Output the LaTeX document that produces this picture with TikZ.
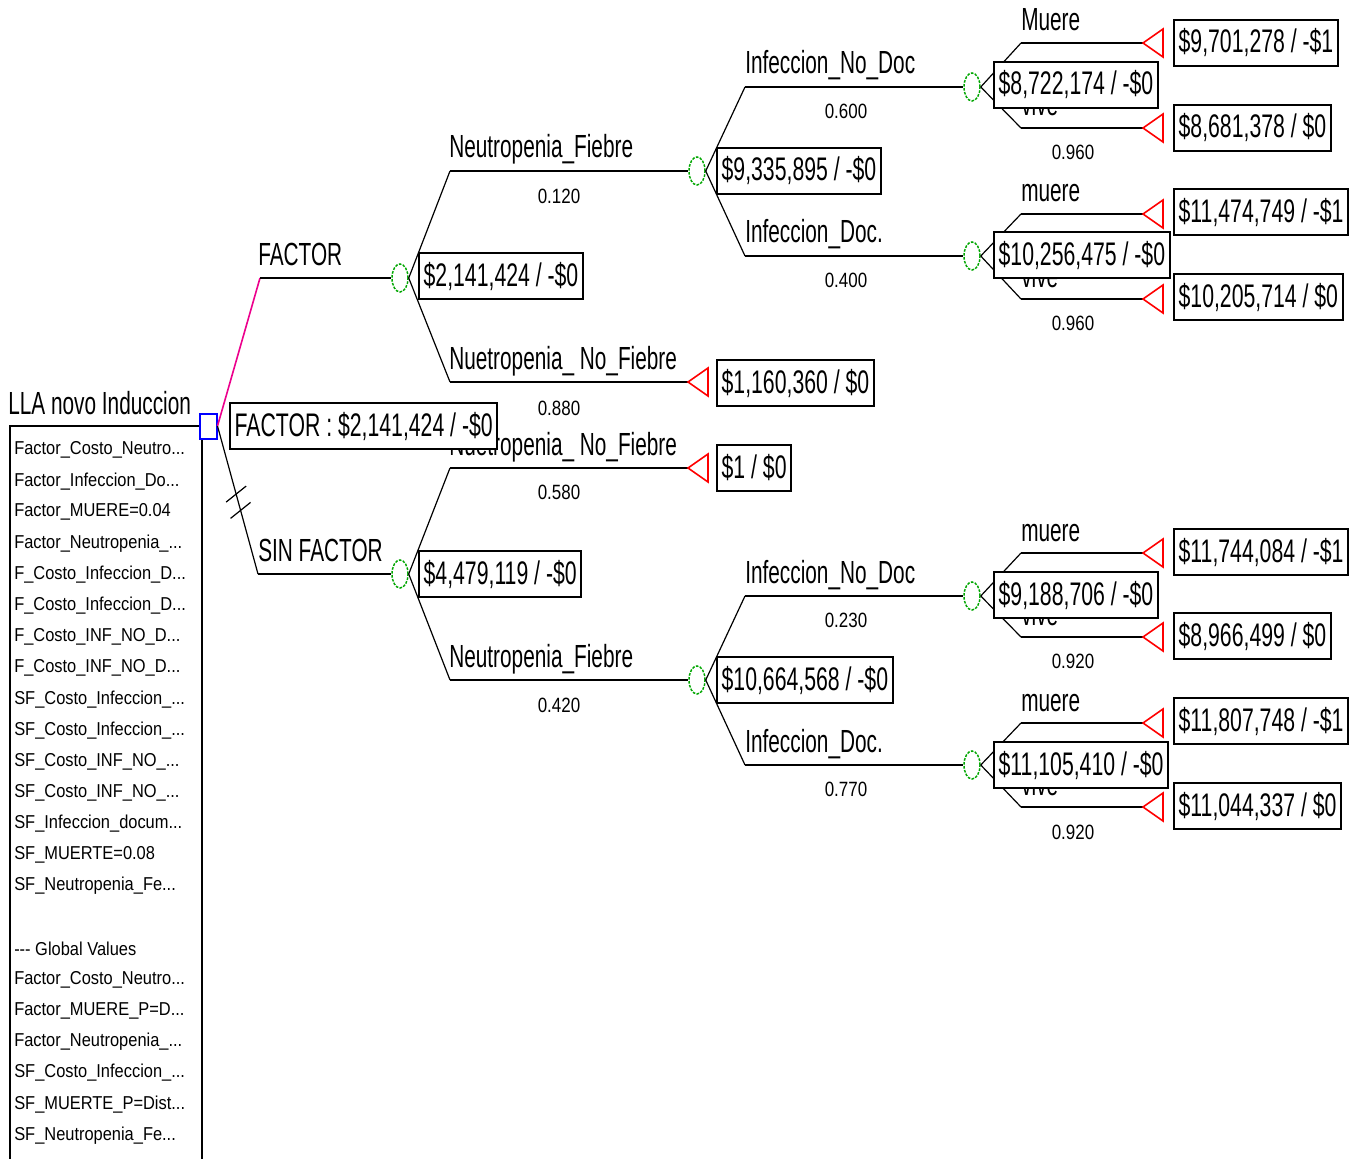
\documentclass[tikz,border=0pt]{standalone}
\usepackage{fontspec}
\setmainfont{Liberation Sans}[FakeStretch=0.65]
\newfontfamily\probfont{Liberation Sans}[FakeStretch=0.82]
\newfontfamily\listfont{Liberation Sans}[FakeStretch=0.88]
\usetikzlibrary{shapes.geometric}
\newcommand\cutdots{...}

\tikzset{
  treelabel/.style={anchor=base west,inner sep=0pt,font=\fontsize{24}{28}\selectfont},
  problabel/.style={inner sep=0pt,font=\probfont\fontsize{15.5}{18}\selectfont},
  listlabel/.style={anchor=west,inner sep=0pt,font=\listfont\fontsize{14}{16}\selectfont},
  valuebox/.style={draw,line width=1.5pt,fill=white,anchor=west,inner xsep=3.5pt,inner ysep=0pt,
    minimum height=34.5pt,font=\fontsize{24.5}{28}\selectfont},
  chancenode/.style={ellipse,draw=green!65!black,line width=1.1pt,dash pattern=on 2pt off 1pt,
    minimum width=12pt,minimum height=21pt,inner sep=0pt},
  decisionnode/.style={rectangle,draw=blue,line width=1.5pt,minimum width=12.75pt,
    minimum height=18.75pt,inner sep=0pt},
  branchline/.style={line width=1.5pt},
  fanline/.style={line width=0.9pt},
  termnode/.style={draw=red,line width=1.2pt,line join=miter},
}

\begin{document}
\begin{tikzpicture}[x=0.75pt,y=-0.75pt]
\useasboundingbox (0,0) rectangle (1357,1159);

% root and its list of values
\node[treelabel] (root) at (8,414) {LLA novo Induccion};
\node[decisionnode] (d0) at (208,426) {};
\draw[line width=1.2pt] (d0.west) -- (10,426) -- (10,1159);
\draw[line width=1.2pt] (202,440) -- (202,1159);
\foreach \v [count=\i from 0] in {Factor\_Costo\_Neutro\cutdots,Factor\_Infeccion\_Do\cutdots,
    Factor\_MUERE=0.04,Factor\_Neutropenia\_\cutdots,F\_Costo\_Infeccion\_D\cutdots,F\_Costo\_Infeccion\_D\cutdots,
    F\_Costo\_INF\_NO\_D\cutdots,F\_Costo\_INF\_NO\_D\cutdots,SF\_Costo\_Infeccion\_\cutdots,SF\_Costo\_Infeccion\_\cutdots,
    SF\_Costo\_INF\_NO\_\cutdots,SF\_Costo\_INF\_NO\_\cutdots,SF\_Infeccion\_docum\cutdots,SF\_MUERTE=0.08,
    SF\_Neutropenia\_Fe\cutdots}
  \node[listlabel] (var\i) at (14,{450+31.15*\i}) {\v};
\foreach \v [count=\i from 16] in {--- Global Values,Factor\_Costo\_Neutro\cutdots,Factor\_MUERE\_P=D\cutdots,
    Factor\_Neutropenia\_\cutdots,SF\_Costo\_Infeccion\_\cutdots,SF\_MUERTE\_P=Dist\cutdots,SF\_Neutropenia\_Fe\cutdots}
  \node[listlabel] (var\i) at (14,{450+31.15*\i}) {\v};

% first split
\coordinate (fF) at (260,278);
\coordinate (fS) at (258,574);
\node[chancenode] (cF) at (400,278) {};
\node[chancenode] (cS) at (400,574) {};
\draw[line width=1.2pt,magenta] (d0.east) -- (fF);
\draw[branchline] (fF) -- (cF.west);
\draw[fanline] (d0.east) -- coordinate[pos=0.46] (m1) coordinate[pos=0.57] (m2) (fS);
\draw[fanline] (m1) ++(-10,8) -- ++(20,-16);
\draw[fanline] (m2) ++(-10,8) -- ++(20,-16);
\draw[branchline] (fS) -- (cS.west);
\node[treelabel] (lF) at (258,265) {FACTOR};
\node[treelabel] (lS) at (258,561) {SIN FACTOR};

% FACTOR
\coordinate (fFN) at (450,171);
\coordinate (fFO) at (450,382);
\node[chancenode] (cFN) at (697,171) {};
\coordinate (tFO) at (688,382);
\draw[fanline] (cF.east) -- (fFN);
\draw[fanline] (cF.east) -- (fFO);
\draw[branchline] (fFN) -- (cFN.west);
\draw[branchline] (fFO) -- (tFO);
\node[treelabel] (lFN) at (449,158) {Neutropenia\_Fiebre};
\node[problabel] (pFN) at (559,196) {0.120};
\node[treelabel] (lFO) at (449,369) {Nuetropenia\_ No\_Fiebre};
\node[problabel] (pFO) at (559,408) {0.880};

\coordinate (fFI) at (745,87);
\coordinate (fFD) at (745,256);
\node[chancenode] (cFI) at (972,87) {};
\node[chancenode] (cFD) at (972,256) {};
\draw[fanline] (cFN.east) -- (fFI);
\draw[fanline] (cFN.east) -- (fFD);
\draw[branchline] (fFI) -- (cFI.west);
\draw[branchline] (fFD) -- (cFD.west);
\node[treelabel] (lFI) at (745,74) {Infeccion\_No\_Doc};
\node[problabel] (pFI) at (846,111) {0.600};
\node[treelabel] (lFD) at (745,243) {Infeccion\_Doc.};
\node[problabel] (pFD) at (846,280) {0.400};

\coordinate (fFIm) at (1021,43);
\coordinate (fFIv) at (1021,128);
\coordinate (tFIm) at (1143,43);
\coordinate (tFIv) at (1143,128);
\draw[fanline] (cFI.east) -- (fFIm);
\draw[fanline] (cFI.east) -- (fFIv);
\draw[branchline] (fFIm) -- (tFIm);
\draw[branchline] (fFIv) -- (tFIv);
\node[treelabel] (lFIm) at (1021,31) {Muere};
\node[problabel] (pFIm) at (1073,69) {0.040};
\node[treelabel] (lFIv) at (1021,116) {vive};
\node[problabel] (pFIv) at (1073,152) {0.960};

\coordinate (fFDm) at (1021,214);
\coordinate (fFDv) at (1021,299);
\coordinate (tFDm) at (1143,214);
\coordinate (tFDv) at (1143,299);
\draw[fanline] (cFD.east) -- (fFDm);
\draw[fanline] (cFD.east) -- (fFDv);
\draw[branchline] (fFDm) -- (tFDm);
\draw[branchline] (fFDv) -- (tFDv);
\node[treelabel] (lFDm) at (1021,202) {muere};
\node[problabel] (pFDm) at (1073,240) {0.040};
\node[treelabel] (lFDv) at (1021,287) {vive};
\node[problabel] (pFDv) at (1073,323) {0.960};

% SIN FACTOR
\coordinate (fSO) at (450,468);
\coordinate (fSN) at (450,680);
\coordinate (tSO) at (688,468);
\node[chancenode] (cSN) at (697,680) {};
\draw[fanline] (cS.east) -- (fSO);
\draw[fanline] (cS.east) -- (fSN);
\draw[branchline] (fSO) -- (tSO);
\draw[branchline] (fSN) -- (cSN.west);
\node[treelabel] (lSO) at (449,455) {Nuetropenia\_ No\_Fiebre};
\node[problabel] (pSO) at (559,492) {0.580};
\node[treelabel] (lSN) at (449,667) {Neutropenia\_Fiebre};
\node[problabel] (pSN) at (559,705) {0.420};

\coordinate (fSI) at (745,596);
\coordinate (fSD) at (745,765);
\node[chancenode] (cSI) at (972,596) {};
\node[chancenode] (cSD) at (972,765) {};
\draw[fanline] (cSN.east) -- (fSI);
\draw[fanline] (cSN.east) -- (fSD);
\draw[branchline] (fSI) -- (cSI.west);
\draw[branchline] (fSD) -- (cSD.west);
\node[treelabel] (lSI) at (745,583) {Infeccion\_No\_Doc};
\node[problabel] (pSI) at (846,620) {0.230};
\node[treelabel] (lSD) at (745,752) {Infeccion\_Doc.};
\node[problabel] (pSD) at (846,789) {0.770};

\coordinate (fSIm) at (1021,553);
\coordinate (fSIv) at (1021,637);
\coordinate (tSIm) at (1143,553);
\coordinate (tSIv) at (1143,637);
\draw[fanline] (cSI.east) -- (fSIm);
\draw[fanline] (cSI.east) -- (fSIv);
\draw[branchline] (fSIm) -- (tSIm);
\draw[branchline] (fSIv) -- (tSIv);
\node[treelabel] (lSIm) at (1021,541) {muere};
\node[problabel] (pSIm) at (1073,579) {0.080};
\node[treelabel] (lSIv) at (1021,625) {vive};
\node[problabel] (pSIv) at (1073,661) {0.920};

\coordinate (fSDm) at (1021,723);
\coordinate (fSDv) at (1021,807);
\coordinate (tSDm) at (1143,723);
\coordinate (tSDv) at (1143,807);
\draw[fanline] (cSD.east) -- (fSDm);
\draw[fanline] (cSD.east) -- (fSDv);
\draw[branchline] (fSDm) -- (tSDm);
\draw[branchline] (fSDv) -- (tSDv);
\node[treelabel] (lSDm) at (1021,711) {muere};
\node[problabel] (pSDm) at (1073,749) {0.080};
\node[treelabel] (lSDv) at (1021,795) {vive};
\node[problabel] (pSDv) at (1073,832) {0.920};

% terminal nodes
\foreach \t in {tFO,tFIm,tFIv,tFDm,tFDv,tSO,tSIm,tSIv,tSDm,tSDv}
  \draw[termnode] (\t) -- ++(20,-14) -- ++(0,28) -- cycle;

% values
\node[valuebox] (vd0) at (229,426) {FACTOR : \$2,141,424 / -\$0};
\node[valuebox] (vF) at (418,276) {\$2,141,424 / -\$0};
\node[valuebox] (vS) at (418,574) {\$4,479,119 / -\$0};
\node[valuebox] (vFN) at (716,171) {\$9,335,895 / -\$0};
\node[valuebox] (vFO) at (716,383) {\$1,160,360 / \$0};
\node[valuebox] (vSO) at (716,468) {\$1 / \$0};
\node[valuebox] (vSN) at (716,680) {\$10,664,568 / -\$0};
\node[valuebox] (vFI) at (993,85) {\$8,722,174 / -\$0};
\node[valuebox] (vFD) at (993,255) {\$10,256,475 / -\$0};
\node[valuebox] (vSI) at (993,595) {\$9,188,706 / -\$0};
\node[valuebox] (vSD) at (993,765) {\$11,105,410 / -\$0};
\node[valuebox] (vFIm) at (1173,43) {\$9,701,278 / -\$1};
\node[valuebox] (vFIv) at (1173,128) {\$8,681,378 / \$0};
\node[valuebox] (vFDm) at (1173,212) {\$11,474,749 / -\$1};
\node[valuebox] (vFDv) at (1173,297) {\$10,205,714 / \$0};
\node[valuebox] (vSIm) at (1173,552) {\$11,744,084 / -\$1};
\node[valuebox] (vSIv) at (1173,636) {\$8,966,499 / \$0};
\node[valuebox] (vSDm) at (1173,721) {\$11,807,748 / -\$1};
\node[valuebox] (vSDv) at (1173,806) {\$11,044,337 / \$0};
\end{tikzpicture}
\end{document}
